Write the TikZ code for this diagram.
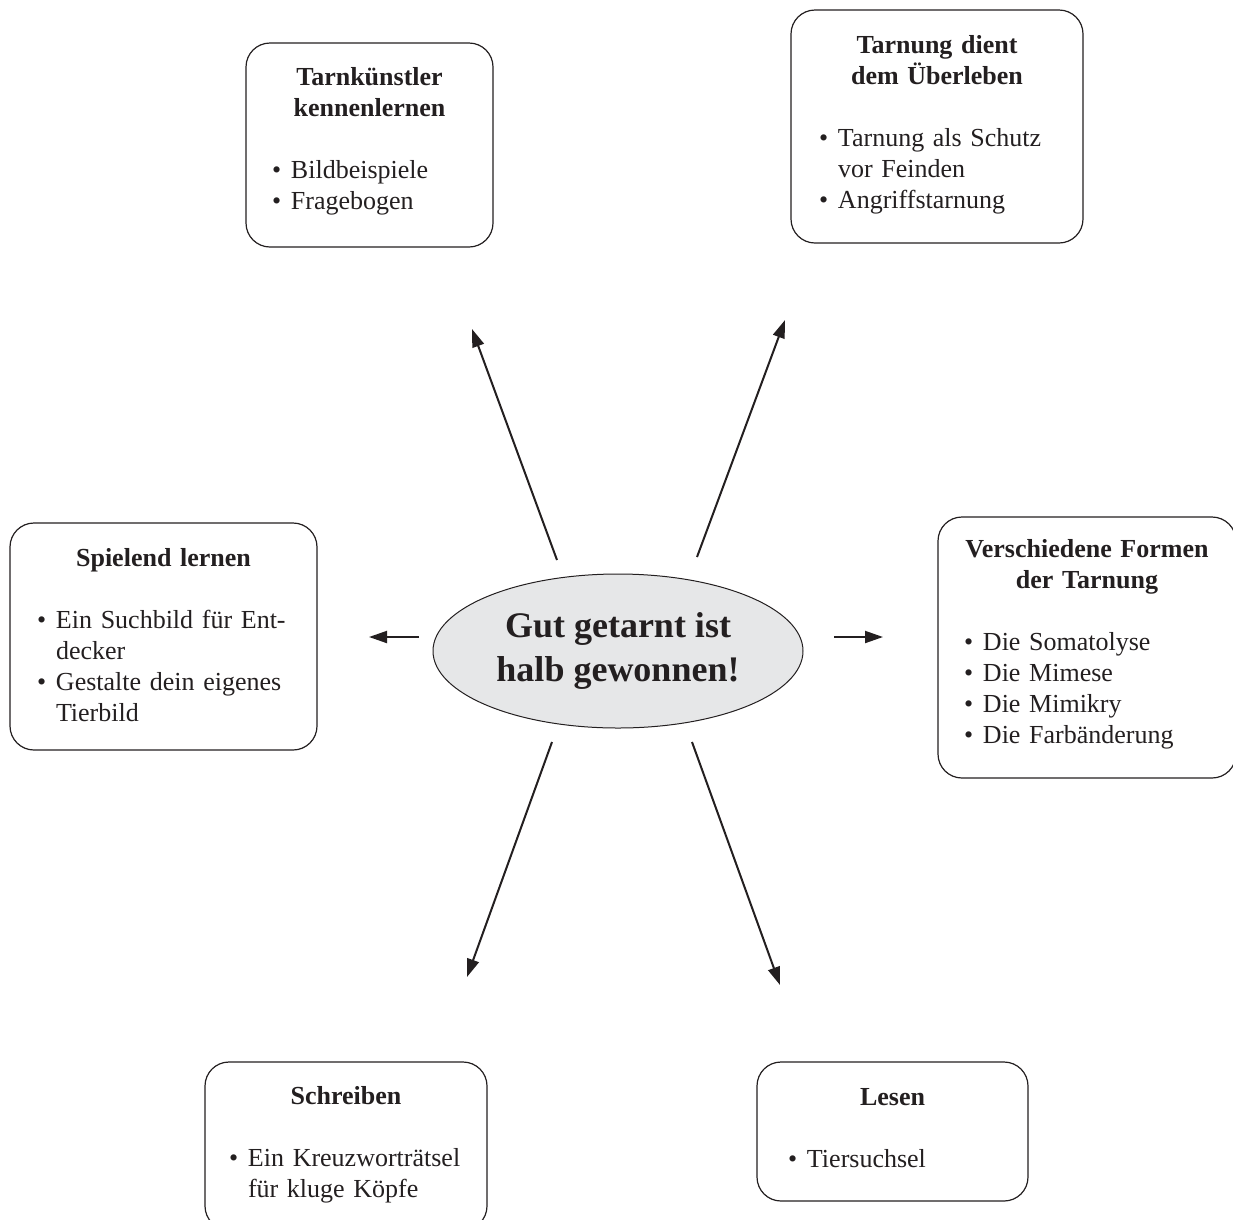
\documentclass[tikz,border=0pt]{standalone}
\usepackage{fontspec}
\setmainfont{Liberation Serif}
\usetikzlibrary{shapes.geometric,arrows.meta}
\definecolor{ink}{HTML}{231F20}
\definecolor{mitte}{HTML}{E6E7E8}
\newdimen\bulw
\bulw=20pt
\newcommand\titel[1]{{\centering\bfseries #1\par}\vspace{31pt}}
\newcommand\itm[1]{\par\noindent\hangindent=\bulw\hangafter=1\makebox[\bulw][l]{\kern1pt\textbullet}#1\par}
\tikzset{px/.style={x=1pt,y=-1pt,line width=1.2pt,draw=ink,text=ink}}
\tikzset{box/.style={draw,rounded corners=24pt,inner xsep=#1,inner ysep=0pt,font={\fontsize{26pt}{31pt}\selectfont\hyphenpenalty=10000}}}
\tikzset{arr/.style={line width=2pt,-{Triangle[length=18pt,width=12pt]}}}

\begin{document}
\begin{tikzpicture}[px]%
    \path [use as bounding box] (0,0) rectangle (1233,1219);
    % hub
    \path (618,651) node [ellipse,draw,line width=1pt,fill=mitte,minimum width=370pt,minimum height=154pt,align=center,
        font={\bfseries\fontsize{36pt}{44pt}\selectfont}] (hub) {Gut getarnt ist\\halb gewonnen!};
    % boxes
    \path (369.5,145) node [box=25pt,minimum width=247pt,minimum height=204pt,text width=197pt] (kunst)
        {\titel{Tarnkünstler\\kennenlernen}\itm{Bildbeispiele}\itm{Fragebogen}\vspace*{8pt}};
    \path (937,126.5) node [box=27pt,minimum width=292pt,minimum height=233pt,text width=238pt] (leben)
        {\titel{Tarnung dient\\dem Überleben}\itm{Tarnung als Schutz\newline vor Feinden}\itm{Angriffstarnung}\vspace*{3pt}};
    \path (163.5,636.5) node [box=26pt,minimum width=307pt,minimum height=227pt,text width=255pt] (spiel)
        {\titel{Spielend lernen}\itm{Ein Suchbild für Ent-\newline decker}\itm{Gestalte dein eigenes\newline Tierbild}\vspace*{3pt}};
    \path (1087,647.5) node [box=25pt,minimum width=298pt,minimum height=261pt,text width=248pt] (formen)
        {\titel{Verschiedene Formen\\der Tarnung}\itm{Die Somatolyse}\itm{Die Mimese}\itm{Die Mimikry}\itm{Die Farbänderung}\vspace*{6pt}};
    \path (346,1146) node [box=23pt,minimum width=282pt,minimum height=168pt,text width=236pt] (schreib)
        {\titel{Schreiben}\itm{Ein Kreuzworträtsel\newline für kluge Köpfe}\vspace*{3pt}};
    \path (892.5,1131.5) node [box=30pt,minimum width=271pt,minimum height=139pt,text width=211pt] (lesen)
        {\titel{Lesen}\itm{Tiersuchsel}\vspace*{6pt}};
    % arrow ends
    \path (557,560) coordinate (kunst0) (472,329) coordinate (kunst1);
    \path (697,557) coordinate (leben0) (785,320) coordinate (leben1);
    \path (419,637) coordinate (spiel0) (369,637) coordinate (spiel1);
    \path (834,637) coordinate (formen0) (883,637) coordinate (formen1);
    \path (552,742) coordinate (schreib0) (467,977) coordinate (schreib1);
    \path (692,742) coordinate (lesen0) (780,985) coordinate (lesen1);
    \foreach \n in {kunst,leben,spiel,formen,schreib,lesen} {
        \path [draw,arr] (\n0) -- (\n1);
    }
\end{tikzpicture}
\end{document}
